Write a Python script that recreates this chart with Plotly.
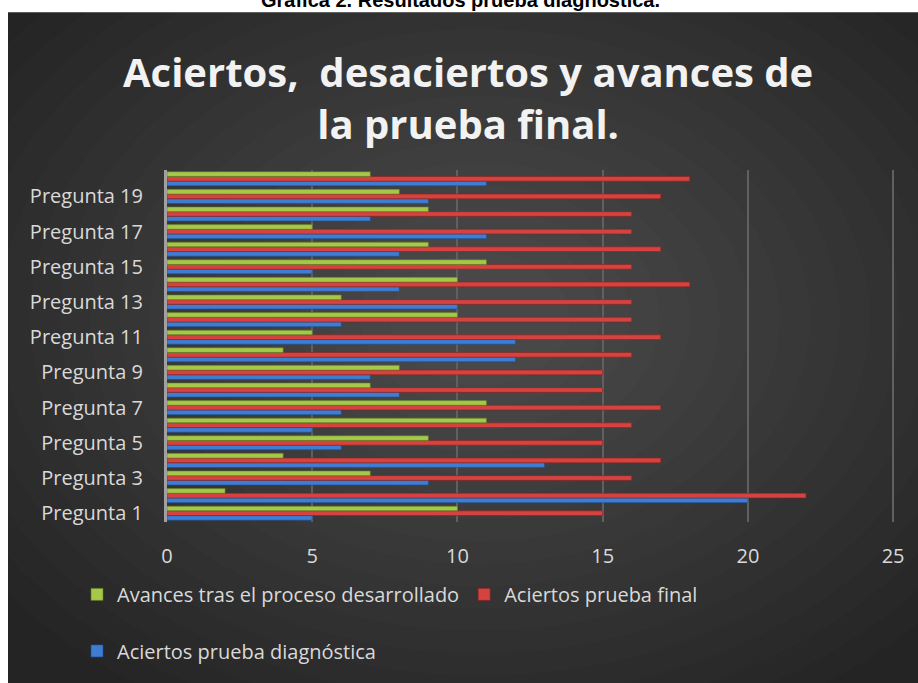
import plotly.graph_objects as go

# -----------------------------
# Data
# -----------------------------
preguntas = [f"Pregunta {i}" for i in range(1, 21)]
diagnostica = [5, 20, 9, 13, 6, 5, 6, 8, 7, 12, 12, 6, 10, 8, 5, 8, 11, 7, 9, 11]
final = [15, 22, 16, 17, 15, 16, 17, 15, 15, 16, 17, 16, 16, 18, 16, 17, 16, 16, 17, 18]
avances = [10, 2, 7, 4, 9, 11, 11, 7, 8, 4, 5, 10, 6, 10, 11, 9, 5, 9, 8, 7]
tick_labels = preguntas[::2]

BLUE = "#3f7dd2"
RED = "#d4433f"
GREEN = "#a5c84b"
TEXT = "#d9d9d9"
FONT = "Open Sans"

# figure geometry (px)
W, H = 918, 683
L, R, T, B = 167, 22, 170, 158
PW, PH = W - L - R, H - T - B


def px_x(x):
    return (x - L) / PW


def px_y(y):
    return (H - B - y) / PH


fig = go.Figure()
fig.add_trace(go.Bar(y=preguntas, x=diagnostica, orientation="h", name="Aciertos prueba diagnóstica",
                     marker=dict(color=BLUE, line=dict(color="#1f4e8c", width=0.6)), legend="legend2"))
fig.add_trace(go.Bar(y=preguntas, x=final, orientation="h", name="Aciertos prueba final",
                     marker=dict(color=RED, line=dict(color="#8c2220", width=0.6)), legend="legend"))
fig.add_trace(go.Bar(y=preguntas, x=avances, orientation="h", name="Avances tras el proceso desarrollado",
                     marker=dict(color=GREEN, line=dict(color="#5f7a20", width=0.6)), legend="legend"))

# dark background with a soft lighter centre
shapes = [dict(type="rect", xref="paper", yref="paper", layer="below",
               x0=px_x(8), x1=px_x(W + 5), y0=px_y(H + 5), y1=px_y(11),
               fillcolor="#242424", line=dict(width=0))]
cx, cy = 480, 320
for r in range(600, 60, -30):
    shapes.append(dict(type="circle", xref="paper", yref="paper", layer="below",
                       x0=px_x(cx - r), x1=px_x(cx + r), y0=px_y(cy + r * 0.75), y1=px_y(cy - r * 0.75),
                       fillcolor="white", opacity=0.012, line=dict(width=0)))

fig.update_layout(
    width=W, height=H,
    margin=dict(l=L, r=R, t=T, b=B),
    paper_bgcolor="white",
    plot_bgcolor="rgba(0,0,0,0)",
    barmode="group",
    bargap=0.2,
    bargroupgap=0,
    shapes=shapes,
    font=dict(family=FONT, color=TEXT, size=20),
    xaxis=dict(range=[0, 25.1], tickvals=[0, 5, 10, 15, 20, 25], showgrid=True,
               gridcolor="#606060", gridwidth=1.5,
               zeroline=False, ticklabelstandoff=20, tickfont=dict(size=20, color=TEXT)),
    yaxis=dict(categoryorder="array", categoryarray=preguntas, tickmode="array",
               tickvals=tick_labels, ticktext=tick_labels, showgrid=False,
               showline=True, linecolor="#a0a0a0", linewidth=3,
               ticklabelstandoff=17, tickfont=dict(size=20, color=TEXT),
               range=[-0.5, 19.5]),
    legend=dict(orientation="h", x=px_x(77), y=px_y(598), xanchor="left", yanchor="middle",
                traceorder="reversed", font=dict(size=20, color=TEXT), bgcolor="rgba(0,0,0,0)"),
    legend2=dict(orientation="h", x=px_x(77), y=px_y(655), xanchor="left", yanchor="middle",
                 font=dict(size=20, color=TEXT), bgcolor="rgba(0,0,0,0)"),
    annotations=[
        dict(text="<b>Aciertos,  desaciertos y avances de<br>la prueba final.</b>",
             xref="paper", yref="paper", x=px_x(468), y=px_y(97), xanchor="center", yanchor="middle",
             showarrow=False, font=dict(family=FONT, size=40, color="#f2f2f2")),
        dict(text="<b>Gráfica 2. Resultados prueba diagnóstica.</b>",
             xref="paper", yref="paper", x=px_x(460), y=px_y(-1), xanchor="center", yanchor="middle",
             showarrow=False, font=dict(family="Liberation Sans", size=20, color="black")),
    ],
)

# drop the page's default body margin so the figure sits at the window's corner
fig.write_html("out.html", config={"displayModeBar": False},
               post_script="document.body.style.margin='0';")
